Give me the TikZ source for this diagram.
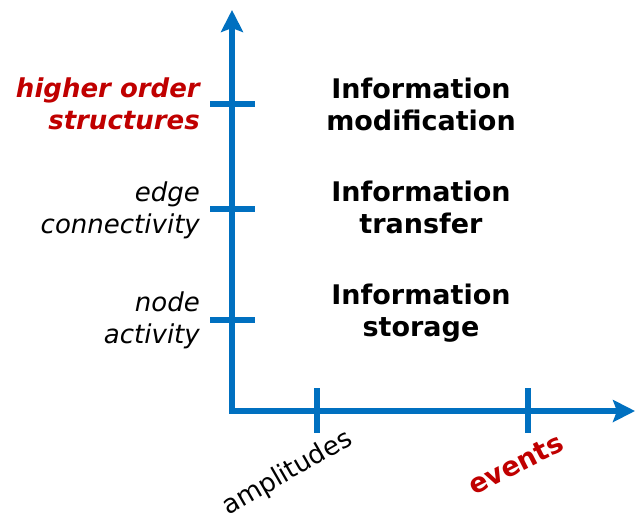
\documentclass[tikz,border=0pt]{standalone}
\usepackage{fontspec}
\setmainfont{DejaVu Sans}
\usetikzlibrary{arrows.meta}
\definecolor{axisblue}{RGB}{0,112,192}
\definecolor{darkred}{RGB}{192,0,0}
\begin{document}
\begin{tikzpicture}[x=1pt,y=-1pt,
  axis/.style={axisblue, line width=5.5pt},
  axistip/.tip={Stealth[length=22pt,width=22pt,inset=4pt]},
  ylab/.style={anchor=east, align=right, inner sep=0pt, font=\fontsize{26}{32}\selectfont\itshape},
  info/.style={align=center, inner sep=0pt, font=\fontsize{27}{32}\selectfont\bfseries},
  xlab/.style={anchor=north east, rotate=30, inner sep=0pt, font=\fontsize{26}{30}\selectfont}]
\useasboundingbox (0,0) rectangle (636,514);
% axes:
\coordinate (origin) at (232,411);
\coordinate (ytop) at (232,10);
\coordinate (xend) at (635,411);
\draw[axis, axistip-axistip] (ytop) -- (origin) -- (xend);
% ticks:
\foreach \y/\name in {104/hos, 209/edge, 320/node}
  \draw[axis] (210,\y) coordinate (\name-l) -- (255,\y) coordinate (\name-r);
\foreach \x/\name in {317/amp, 528/ev}
  \draw[axis] (\x,388) coordinate (\name-t) -- (\x,433) coordinate (\name-b);
% y labels:
\node[ylab, text=darkred, font=\fontsize{26}{32}\selectfont\bfseries\itshape] (hoslab) at (200,104) {higher order\\structures};
\node[ylab] (edgelab) at (200,210) {edge\\connectivity};
\node[ylab] (nodelab) at (200,320) {node\\activity};
% info labels:
\node[info] (modif) at (421,104) {Information\\modification};
\node[info] (transf) at (421,207) {Information\\transfer};
\node[info] (stor) at (421,313) {Information\\storage};
% x labels:
\node[xlab] (amplab) at (344,426) {amplitudes};
\node[xlab, rotate=-3, text=darkred, font=\fontsize{27}{30}\selectfont\bfseries] (evlab) at (557,432) {events};
\end{tikzpicture}
\end{document}
